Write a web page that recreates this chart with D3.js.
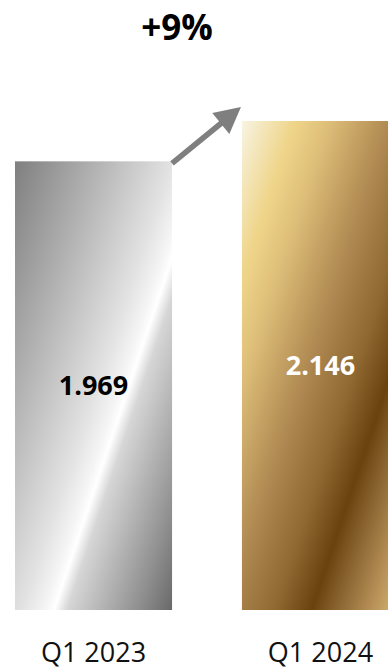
<!DOCTYPE html>
<html>
<head>
<meta charset="utf-8">
<script src="https://cdn.jsdelivr.net/npm/d3@7"></script>
<style>
  body { margin: 0; background: #fff; }
  svg { display: block; font-family: "Open Sans", sans-serif; }
</style>
</head>
<body>
<script>
// data
var categories = ["Q1 2023", "Q1 2024"];
var values = [1.969, 2.146];
var valueLabels = ["1.969", "2.146"];
var changeLabel = "+9%";

var w = 388, h = 669;

// metallic fills, offsets along the diagonal
var silverStops = [[0, "#7f7f7f"], [0.24, "#b0b0b0"], [0.48, "#e2e2e2"], [0.55, "#f4f4f4"],
                   [0.58, "#ffffff"], [0.62, "#d6d6d6"], [0.84, "#8e8e8e"], [0.96, "#626262"]];
var goldStops = [[0, "#f8f4e2"], [0.16, "#efd58a"], [0.26, "#dfc07a"], [0.45, "#b08a52"],
                 [0.6, "#8f6832"], [0.715, "#6a420e"], [0.79, "#8a6430"], [0.9, "#b89258"], [0.985, "#dab874"]];
var fills = [silverStops, goldStops];
var labelColors = ["#000", "#fff"];

var svg = d3.select("body").append("svg")
    .attr("width", w)
    .attr("height", h);

var x = d3.scaleBand()
    .domain(categories)
    .range([15, 399])
    .paddingInner(0.308)
    .paddingOuter(0);

var y = d3.scaleLinear()
    .domain([0, d3.max(values)])
    .range([610, 121]);

var defs = svg.append("defs");
var L = 310;
categories.forEach(function (c, i) {
    var x0 = x(c), y0 = y(values[i]);
    var g = defs.append("linearGradient")
        .attr("id", "fill" + i)
        .attr("gradientUnits", "userSpaceOnUse")
        .attr("x1", x0).attr("y1", y0)
        .attr("x2", x0 + L * 0.948).attr("y2", y0 + L * 0.318);
    fills[i].forEach(function (s) {
        g.append("stop").attr("offset", s[0]).attr("stop-color", s[1]);
    });
});

svg.selectAll("rect.bar")
    .data(values)
    .enter().append("rect")
    .attr("class", "bar")
    .attr("x", function (d, i) { return x(categories[i]); })
    .attr("y", function (d) { return y(d); })
    .attr("width", x.bandwidth())
    .attr("height", function (d) { return y(0) - y(d); })
    .style("fill", function (d, i) { return "url(#fill" + i + ")"; });

svg.selectAll("text.val")
    .data(values)
    .enter().append("text")
    .attr("class", "val")
    .attr("x", function (d, i) { return x(categories[i]) + x.bandwidth() / 2; })
    .attr("y", function (d) { return (y(d) + y(0)) / 2; })
    .attr("dy", "0.35em")
    .attr("text-anchor", "middle")
    .attr("font-size", 27)
    .attr("font-weight", "bold")
    .attr("fill", function (d, i) { return labelColors[i]; })
    .text(function (d, i) { return valueLabels[i]; });

svg.selectAll("text.cat")
    .data(categories)
    .enter().append("text")
    .attr("class", "cat")
    .attr("x", function (d) { return x(d) + x.bandwidth() / 2; })
    .attr("y", 662)
    .attr("text-anchor", "middle")
    .attr("font-size", 27)
    .attr("fill", "#111")
    .text(function (d) { return d; });

// growth arrow from bar 1 corner toward bar 2
var ax0 = x(categories[0]) + x.bandwidth(), ay0 = y(values[0]) + 2;
var ax1 = x(categories[1]) - 1, ay1 = y(values[1]) - 14;
var dx = ax1 - ax0, dy = ay1 - ay0, len = Math.sqrt(dx * dx + dy * dy);
var ux = dx / len, uy = dy / len, nx = -uy, ny = ux;
var headLen = 26, headHalf = 13.5, shaft = 2.8;
var bx = ax1 - headLen * ux, by = ay1 - headLen * uy;
var pts = [
    [ax0 + shaft * nx, ay0 + shaft * ny],
    [bx + shaft * nx, by + shaft * ny],
    [bx + headHalf * nx, by + headHalf * ny],
    [ax1, ay1],
    [bx - headHalf * nx, by - headHalf * ny],
    [bx - shaft * nx, by - shaft * ny],
    [ax0 - shaft * nx, ay0 - shaft * ny]
];
svg.append("path")
    .attr("d", d3.line()(pts) + "Z")
    .style("fill", "#7f7f7f");

svg.append("text")
    .attr("x", 177)
    .attr("y", 40)
    .attr("text-anchor", "middle")
    .attr("font-size", 35)
    .attr("font-weight", "bold")
    .attr("fill", "#000")
    .text(changeLabel);
</script>
</body>
</html>
